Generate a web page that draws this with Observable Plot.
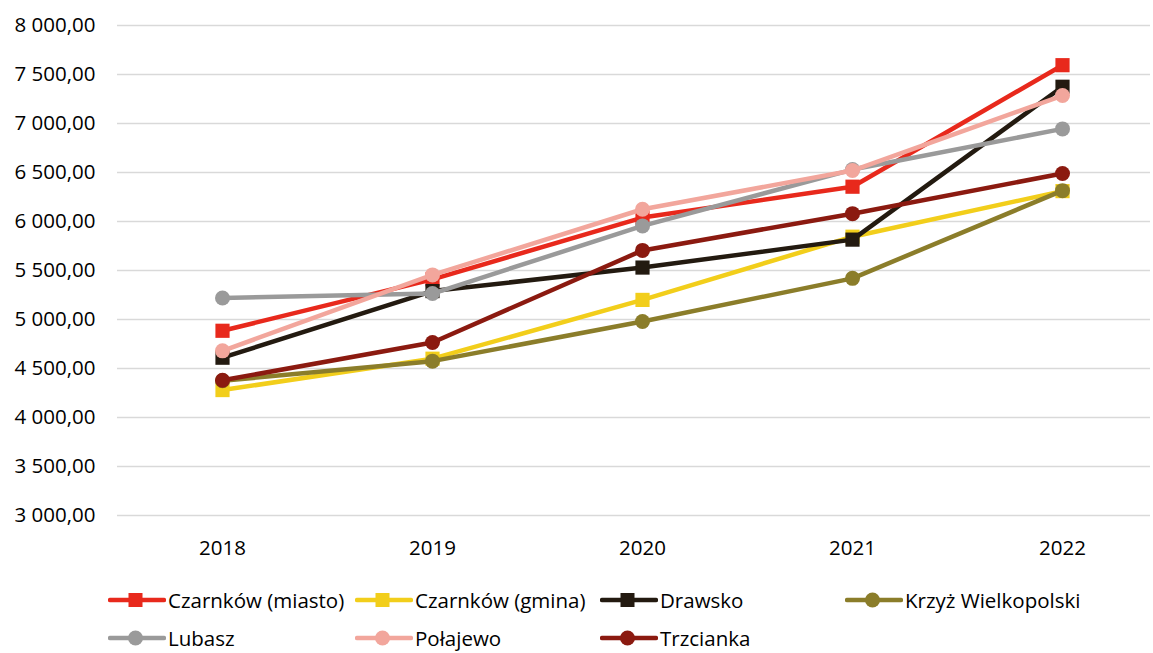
<!DOCTYPE html>
<html>
<head>
<meta charset="utf-8">
<script src="https://cdn.jsdelivr.net/npm/d3@7"></script>
<script src="https://cdn.jsdelivr.net/npm/@observablehq/plot@0.6"></script>
<style>
  html, body { margin: 0; padding: 0; background: #fff; overflow: hidden; }
  #wrap { position: relative; width: 1153px; height: 653px; }
  #legend { position: absolute; left: 0; top: 0; width: 1153px; height: 653px; pointer-events: none; }
  .item { position: absolute; display: flex; align-items: center; font-family: "Open Sans", sans-serif; font-size: 20.5px; line-height: 26px; color: #000; white-space: nowrap; }
</style>
</head>
<body>
<div id="wrap"><div id="chart"></div><div id="legend"></div></div>
<script>
const years = ["2018", "2019", "2020", "2021", "2022"];
const seriesNames = ["Czarnków (miasto)", "Czarnków (gmina)", "Drawsko", "Krzyż Wielkopolski", "Lubasz", "Połajewo", "Trzcianka"];
const seriesColors = ["#E8291C", "#F2CE1B", "#231A10", "#8B7D2A", "#9A9A9A", "#F2A69C", "#8B1A10"];
const seriesSymbols = ["square", "square", "square", "circle", "circle", "circle", "circle"];
const czarnkowMiasto = [4885, 5410, 6040, 6355, 7595];
const czarnkowGmina = [4280, 4600, 5200, 5845, 6310];
const drawsko = [4610, 5290, 5530, 5815, 7375];
const krzyz = [4375, 4575, 4980, 5420, 6315];
const lubasz = [5220, 5265, 5955, 6530, 6945];
const polajewo = [4680, 5455, 6125, 6520, 7285];
const trzcianka = [4380, 4765, 5705, 6080, 6490];
const yTicks = [3000, 3500, 4000, 4500, 5000, 5500, 6000, 6500, 7000, 7500, 8000];

const allValues = [czarnkowMiasto, czarnkowGmina, drawsko, krzyz, lubasz, polajewo, trzcianka];
const data = [];
seriesNames.forEach((name, i) => {
  years.forEach((yr, j) => data.push({series: name, year: yr, value: allValues[i][j], idx: i}));
});

const fmt = v => d3.format(",.2f")(v).replace(/,/g, " ").replace(".", ",");

const marks = [
  Plot.ruleY(yTicks, {stroke: "#d9d9d9", strokeWidth: 1.3})
];
seriesNames.forEach((name, i) => {
  const d = data.filter(r => r.idx === i);
  marks.push(Plot.line(d, {x: "year", y: "value", stroke: seriesColors[i], strokeWidth: 4.5}));
  if (seriesSymbols[i] === "square") {
    marks.push(Plot.dot(d, {x: "year", y: "value", symbol: "square", r: 8, fill: seriesColors[i], stroke: "none"}));
  } else {
    marks.push(Plot.dot(d, {x: "year", y: "value", r: 7.5, fill: seriesColors[i], stroke: "none"}));
  }
});

const chart = Plot.plot({
  width: 1153,
  height: 570,
  marginLeft: 117,
  marginRight: 3,
  marginTop: 25,
  marginBottom: 55,
  style: {fontFamily: "Open Sans, sans-serif", fontSize: "20.5px", color: "#000", background: "#fff"},
  x: {type: "point", domain: years, range: [222, 1062], padding: 0, label: null, tickSize: 0, tickPadding: 25},
  y: {domain: [3000, 8000], ticks: yTicks, tickFormat: fmt, label: null, tickSize: 0, tickPadding: 22},
  marks
});
document.getElementById("chart").appendChild(chart);

// Legend
const legend = document.getElementById("legend");
const colX = [108, 355, 600, 845];
const rowY = [600, 638];
seriesNames.forEach((name, i) => {
  const row = Math.floor(i / 4), col = i % 4;
  const div = document.createElement("div");
  div.className = "item";
  div.style.left = colX[col] + "px";
  div.style.top = (rowY[row] - 13) + "px";
  const sym = seriesSymbols[i] === "square"
    ? `<rect x="20.5" y="6" width="14" height="14" fill="${seriesColors[i]}"/>`
    : `<circle cx="27.5" cy="13" r="7.5" fill="${seriesColors[i]}"/>`;
  div.innerHTML = `<svg width="58" height="26" style="margin-right:2px"><line x1="2" x2="56" y1="13" y2="13" stroke="${seriesColors[i]}" stroke-width="4.5" stroke-linecap="round"/>${sym}</svg><span>${name}</span>`;
  legend.appendChild(div);
});
</script>
</body>
</html>
